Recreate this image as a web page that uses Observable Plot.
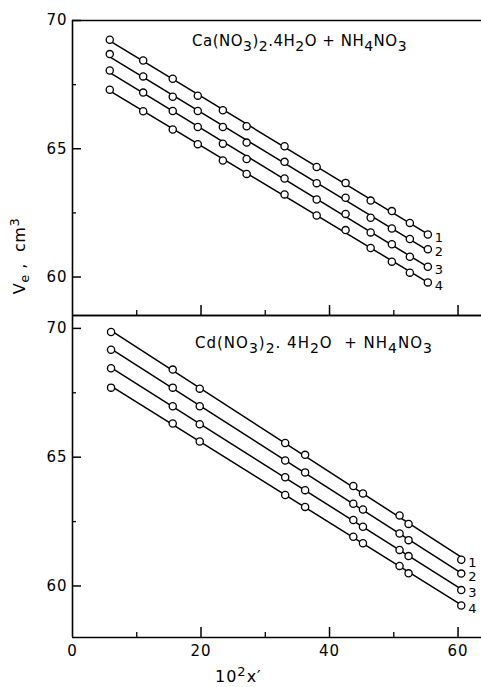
<!DOCTYPE html>
<html><head><meta charset="utf-8">
<script src="https://cdn.jsdelivr.net/npm/d3@7"></script>
<script src="https://cdn.jsdelivr.net/npm/@observablehq/plot@0.6"></script>
<style>
body{margin:0;background:#fff;}
#wrap{position:relative;width:481px;height:687px;overflow:hidden;font-family:"DejaVu Sans",sans-serif;color:#000;}
#wrap svg{position:absolute;left:0;}
.lab{position:absolute;white-space:nowrap;font-size:15px;line-height:15px;letter-spacing:0.5px;}
.sb{position:relative;top:5px;font-size:14px;}
.sp{position:relative;top:-6px;font-size:13px;}
</style></head><body>
<div id="wrap">
  <div class="lab" style="left:192px;top:34px;">Ca(NO<span class="sb">3</span>)<span class="sb">2</span>.4H<span class="sb">2</span>O + NH<span class="sb">4</span>NO<span class="sb">3</span></div>
  <div class="lab" style="left:195px;top:336px;letter-spacing:1px;">Cd(NO<span class="sb">3</span>)<span class="sb">2</span>. 4H<span class="sb">2</span>O &nbsp;+ NH<span class="sb">4</span>NO<span class="sb">3</span></div>
  <div class="lab" style="left:20px;top:256px;font-size:16px;transform:translate(-50%,-50%) rotate(-90deg);">V<span class="sb" style="font-size:13px;top:4px;">e</span> , &nbsp;cm<span class="sp">3</span></div>
  <div class="lab" style="left:215px;top:669px;font-size:16px;letter-spacing:1px;">10<span class="sp">2</span>x′</div>
</div>
<script>
// Panel 1: Ca(NO3)2.4H2O + NH4NO3
const xCa = [5.8, 11.0, 15.6, 19.5, 23.4, 27.1, 33.0, 38.0, 42.5, 46.4, 49.7, 52.5, 55.3];
const ca1 = [69.25, 68.44, 67.73, 67.07, 66.50, 65.88, 65.10, 64.29, 63.67, 62.98, 62.57, 62.11, 61.66];
const ca2 = [68.69, 67.82, 67.03, 66.47, 65.85, 65.24, 64.49, 63.66, 63.09, 62.31, 61.89, 61.48, 61.08];
const ca3 = [68.05, 67.19, 66.47, 65.85, 65.20, 64.60, 63.84, 63.02, 62.46, 61.74, 61.28, 60.79, 60.40];
const ca4 = [67.30, 66.46, 65.75, 65.18, 64.54, 64.02, 63.22, 62.40, 61.83, 61.13, 60.60, 60.17, 59.79];
// Panel 2: Cd(NO3)2.4H2O + NH4NO3
const xCd = [6.0, 15.6, 19.8, 33.1, 36.2, 43.7, 45.2, 50.9, 52.3, 60.5];
const cd1 = [69.86, 68.40, 67.66, 65.55, 65.09, 63.88, 63.59, 62.74, 62.41, 61.02];
const cd2 = [69.17, 67.70, 66.98, 64.87, 64.41, 63.19, 62.97, 62.04, 61.78, 60.48];
const cd3 = [68.45, 66.98, 66.28, 64.22, 63.72, 62.56, 62.30, 61.40, 61.16, 59.84];
const cd4 = [67.70, 66.31, 65.61, 63.53, 63.07, 61.91, 61.66, 60.78, 60.49, 59.24];
const seriesNames = ["1", "2", "3", "4"];
// Axes
const yTicks = [60, 65, 70];
const yMinorTicks = [62.5, 67.5];
const xTicks = [0, 20, 40, 60];
const xMajorInner = [20, 40, 60];
const xMinorInner = [10, 30, 50];
const xDomain = [0, 63.65];
const yDomainCa = [58.5, 70];
const yDomainCd = [58, 70.5];

function rows(xs, series) {
  const out = [];
  series.forEach((ys, i) => ys.forEach((v, j) => out.push({x: xs[j], y: v, s: seriesNames[i]})));
  return out;
}
function lastRows(xs, series) {
  return series.map((ys, i) => ({x: xs[xs.length - 1], y: ys[ys.length - 1], s: seriesNames[i]}));
}

function panel({xs, series, yDomain, height, marginTop, marginBottom, showX}) {
  const W = 481, mL = 72, mR = 0;
  const pw = W - mL - mR, ph = height - marginTop - marginBottom;
  const data = rows(xs, series);
  return Plot.plot({
    width: W, height, marginLeft: mL, marginRight: mR, marginTop, marginBottom,
    style: {fontFamily: "DejaVu Sans, sans-serif", fontSize: "15px", background: "transparent", color: "black", overflow: "visible", letterSpacing: "1px"},
    x: showX ? {domain: xDomain, ticks: xTicks, tickSize: 0, tickPadding: 8, label: null, tickFormat: d => String(d)}
             : {domain: xDomain, axis: null},
    y: {domain: yDomain, ticks: yTicks, tickSize: 0, tickPadding: 5, label: null, tickFormat: d => String(d)},
    marks: [
      Plot.ruleX([xDomain[0]], {stroke: "black", strokeWidth: 1.6}),
      Plot.ruleY([yDomain[1]], {stroke: "black", strokeWidth: 1.6}),
      Plot.ruleY([yDomain[0]], {stroke: "black", strokeWidth: 1.6}),
      Plot.tickY(yTicks, {y: d => d, insetRight: pw - 9, stroke: "black", strokeWidth: 1.5}),
      Plot.tickY(yMinorTicks, {y: d => d, insetRight: pw - 4, stroke: "black", strokeWidth: 1.3}),
      Plot.tickX(xMajorInner, {x: d => d, insetTop: ph - 10, stroke: "black", strokeWidth: 1.5}),
      Plot.tickX(xMinorInner, {x: d => d, insetTop: ph - 5, stroke: "black", strokeWidth: 1.3}),
      Plot.linearRegressionY(data, {x: "x", y: "y", z: "s", ci: 0, stroke: "black", strokeWidth: 1.5}),
      Plot.dot(data, {x: "x", y: "y", r: 3.6, fill: "white", stroke: "black", strokeWidth: 1.3}),
      Plot.text(lastRows(xs, series), {x: "x", y: "y", text: "s", dx: 7, dy: 3, textAnchor: "start", fontSize: 13})
    ]
  });
}

const wrap = document.getElementById("wrap");
const top1 = panel({xs: xCa, series: [ca1, ca2, ca3, ca4], yDomain: yDomainCa, height: 316, marginTop: 20, marginBottom: 1, showX: false});
top1.style.top = "0px";
const bot = panel({xs: xCd, series: [cd1, cd2, cd3, cd4], yDomain: yDomainCd, height: 372, marginTop: 0, marginBottom: 50, showX: true});
bot.style.top = "315px";
wrap.appendChild(top1);
wrap.appendChild(bot);
</script>
</body></html>
